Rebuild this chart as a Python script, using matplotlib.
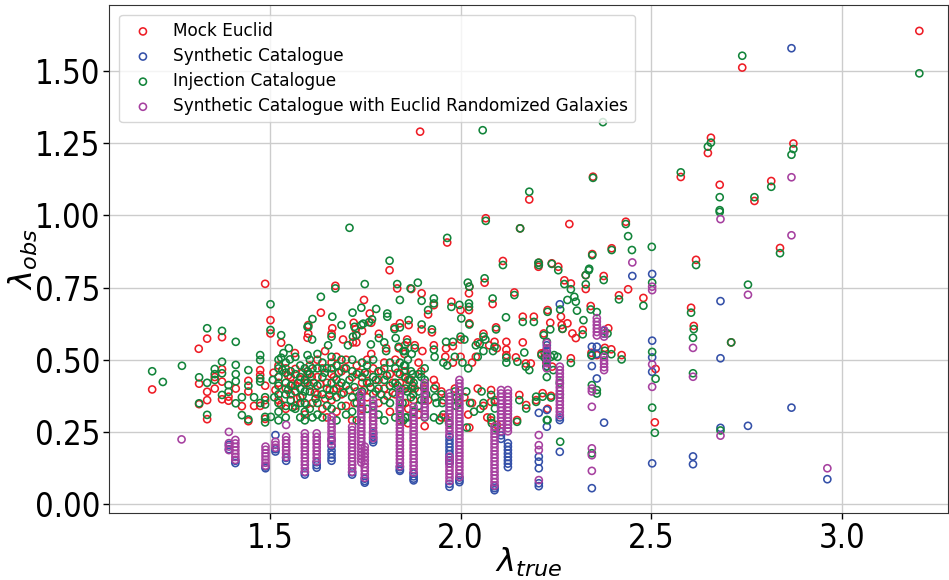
import matplotlib
matplotlib.use("Agg")
import matplotlib.pyplot as plt
from matplotlib import font_manager

# (lambda_true, lambda_obs) pairs for each catalogue
mock_euclid = [
    (1.192, .397), (1.314, .538), (1.336, .573), (1.375, .578), (1.315, .417), (1.315, .346),
    (1.336, .389), (1.336, .360), (1.336, .294), (1.356, .440), (1.356, .400), (1.375, .467),
    (1.375, .424), (1.375, .363), (1.392, .372), (1.392, .358), (1.411, .400), (1.427, .339),
    (1.444, .427), (1.444, .390), (1.444, .287), (1.459, .340),
    (1.488, .763), (1.502, .637), (1.502, .591), (1.530, .559), (1.475, .464), (1.475, .447),
    (1.475, .340), (1.488, .410), (1.488, .360), (1.488, .295), (1.523, .480), (1.523, .420),
    (1.523, .360), (1.542, .470), (1.542, .400), (1.542, .330), (1.555, .440), (1.567, .468),
    (1.567, .410), (1.567, .340), (1.580, .430), (1.580, .370), (1.592, .420), (1.592, .310),
    (1.599, .576), (1.599, .450), (1.566, .523), (1.555, .380),
    (1.672, .756), (1.814, .810), (1.834, .747), (1.634, .663), (1.601, .620), (1.664, .609),
    (1.720, .628), (1.725, .606), (1.747, .707), (1.742, .600), (1.766, .628), (1.841, .626),
    (1.864, .620), (1.827, .612), (1.692, .570), (1.601, .590), (1.662, .590), (1.645, .530),
    (1.718, .560), (1.727, .585), (1.727, .560), (1.766, .520), (1.786, .590), (1.805, .540),
    (1.838, .540), (1.860, .570), (1.853, .520), (1.871, .745), (1.894, 1.290), (1.762, .660),
    (1.605, .480), (1.605, .410), (1.612, .350), (1.625, .500), (1.625, .440), (1.625, .380),
    (1.638, .470), (1.638, .330), (1.650, .420), (1.650, .300), (1.662, .490), (1.662, .450),
    (1.662, .360), (1.675, .510), (1.675, .400), (1.675, .320), (1.688, .460), (1.688, .380),
    (1.700, .500), (1.700, .340), (1.716, .440), (1.716, .290), (1.728, .480), (1.728, .390),
    (1.742, .420), (1.742, .330), (1.755, .500), (1.755, .450), (1.755, .370), (1.771, .470),
    (1.771, .300), (1.785, .430), (1.785, .350), (1.800, .490), (1.800, .400), (1.815, .450),
    (1.815, .320), (1.829, .500), (1.829, .380), (1.841, .420), (1.841, .290), (1.855, .460),
    (1.855, .350), (1.870, .430), (1.870, .400), (1.877, .360), (1.890, .490), (1.890, .310),
    (1.906, .410), (1.906, .270),
    (1.510, .455), (1.515, .395), (1.530, .345), (1.548, .445), (1.560, .415), (1.572, .365),
    (1.586, .455), (1.596, .345), (1.610, .440), (1.618, .385), (1.632, .415), (1.645, .365),
    (1.657, .395), (1.668, .440), (1.683, .410), (1.695, .470), (1.708, .395), (1.722, .350),
    (1.735, .455), (1.748, .395), (1.762, .420), (1.778, .390), (1.792, .460), (1.808, .375),
    (1.822, .420), (1.835, .455), (1.848, .395), (1.863, .330),
    (1.898, .730), (1.930, .689), (1.915, .657), (1.976, .701), (2.000, .672), (2.023, .753),
    (2.022, .730), (2.022, .672), (2.023, .626), (2.063, .767), (2.066, .990), (1.965, .906),
    (1.898, .605), (1.925, .595), (1.962, .539), (1.980, .547), (2.000, .570), (2.045, .560),
    (2.060, .590), (2.075, .550), (2.095, .540), (1.854, .550), (1.880, .550), (1.900, .530),
    (1.930, .550), (1.960, .510), (1.980, .490), (2.000, .510), (2.030, .490), (2.040, .510),
    (1.852, .460), (1.862, .430), (1.880, .400), (1.897, .460), (1.905, .400), (1.915, .360),
    (1.930, .430), (1.935, .410), (1.950, .390), (1.955, .360), (1.950, .300), (1.985, .400),
    (1.995, .360), (2.010, .370), (2.030, .350), (2.020, .310), (2.045, .400), (2.060, .340),
    (2.070, .300), (1.960, .300), (1.862, .280), (2.023, .265), (2.080, .290),
    (2.084, .693), (2.093, .612), (2.111, .842), (2.141, .733), (2.163, .649), (2.192, .649),
    (2.205, .836), (2.204, .822), (2.239, .834), (2.256, .822), (2.272, .775), (2.289, .764),
    (2.328, .793), (2.328, .745), (2.375, .790), (2.439, .744), (2.415, .723), (2.479, .714),
    (2.345, .866), (2.228, .672), (2.263, .649), (2.280, .626), (2.235, .628), (2.267, .607),
    (2.320, .603), (2.341, .686), (2.387, .609), (2.293, .591), (2.218, .591), (2.212, .522),
    (2.289, .505), (2.378, .541), (2.395, .536), (2.343, .524), (2.357, .516), (2.422, .516),
    (2.511, .468), (2.509, .283), (2.089, .562), (2.120, .562), (2.120, .535), (2.120, .516),
    (2.145, .508), (2.163, .560), (2.171, .487), (2.184, .487), (2.220, .525), (2.225, .490),
    (2.240, .476), (2.198, .360), (2.215, .384), (2.237, .375), (2.172, .343), (2.154, .378),
    (2.148, .291), (2.228, .330), (2.090, .360), (2.095, .274), (2.080, .395), (2.080, .354),
    (2.156, .955), (2.180, 1.055), (2.285, .970), (2.347, 1.134), (2.302, .575), (2.265, .620),
    (2.433, .978), (2.396, .886),
    (2.604, .680), (2.611, .617), (2.617, .846), (2.577, 1.133), (2.656, 1.269), (2.648, 1.216),
    (2.679, 1.106), (2.709, .560), (2.738, 1.512), (2.770, 1.050), (2.814, 1.119), (2.837, .887),
    (2.872, 1.249), (3.202, 1.639),
]

synthetic = [
    (1.393, .205), (1.393, .190), (1.410, .150), (1.410, .142), (1.489, .130), (1.489, .124),
    (1.515, .239), (1.515, .190), (1.515, .182), (1.543, .160), (1.543, .150), (1.592, .110),
    (1.592, .102), (1.623, .145), (1.623, .135), (1.623, .126), (1.662, .222), (1.662, .200),
    (1.662, .185), (1.662, .172), (1.662, .160), (1.662, .150), (1.716, .110), (1.716, .102),
    (1.749, .088), (1.749, .080), (1.749, .074), (1.771, .245), (1.771, .232), (1.771, .222),
    (1.771, .214), (1.841, .128), (1.841, .120), (1.841, .115), (1.877, .106), (1.877, .096),
    (1.877, .088), (1.877, .082), (1.971, .233), (1.971, .221), (1.971, .209), (1.971, .197),
    (1.971, .185), (1.971, .173), (1.971, .161), (1.971, .150), (1.971, .141), (1.971, .070),
    (1.971, .060), (1.997, .092), (1.997, .083), (1.997, .076), (2.089, .062), (2.089, .055),
    (2.089, .048), (2.106, .250), (2.106, .238), (2.106, .226), (2.124, .211), (2.124, .199),
    (2.124, .187), (2.124, .175), (2.124, .163), (2.124, .151), (2.124, .140), (2.124, .128),
    (2.205, .316), (2.205, .164), (2.205, .147), (2.205, .124), (2.205, .072), (2.205, .062),
    (2.226, .550), (2.226, .530), (2.226, .512), (2.226, .495), (2.226, .478), (2.226, .326),
    (2.226, .268), (2.260, .692), (2.260, .300), (2.260, .291), (2.260, .181), (2.344, .545),
    (2.344, .514), (2.344, .478), (2.344, .055), (2.357, .545), (2.357, .520), (2.357, .435),
    (2.376, .600), (2.376, .590), (2.376, .282), (2.450, .790), (2.502, .797), (2.502, .566),
    (2.502, .508), (2.502, .458), (2.502, .141), (2.609, .165), (2.609, .138), (2.681, .703),
    (2.681, .505), (2.681, .264), (2.753, .271), (2.867, 1.579), (2.867, .334), (2.961, .086),
]

injection = [
    (1.192, .460), (1.220, .423), (1.270, .479), (1.336, .609), (1.375, .600), (1.411, .562),
    (1.315, .439), (1.315, .349), (1.336, .420), (1.336, .309), (1.356, .468), (1.356, .450),
    (1.356, .430), (1.375, .493), (1.375, .453), (1.375, .378), (1.392, .412), (1.392, .389),
    (1.411, .482), (1.411, .450), (1.411, .425), (1.411, .349), (1.427, .370), (1.427, .308),
    (1.444, .464), (1.444, .410), (1.444, .293), (1.459, .370),
    (1.502, .692), (1.502, .603), (1.530, .585), (1.553, .501), (1.475, .516), (1.475, .499),
    (1.475, .435), (1.475, .424), (1.475, .350), (1.488, .370), (1.488, .345), (1.488, .302),
    (1.488, .283), (1.503, .302), (1.530, .507), (1.523, .500), (1.523, .470), (1.523, .440),
    (1.523, .410), (1.523, .380), (1.523, .350), (1.523, .320), (1.523, .290), (1.542, .490),
    (1.542, .455), (1.542, .420), (1.542, .380), (1.542, .340), (1.542, .300), (1.555, .460),
    (1.555, .410), (1.555, .360), (1.567, .510), (1.567, .450), (1.567, .390), (1.567, .330),
    (1.580, .480), (1.580, .440), (1.580, .400), (1.580, .350), (1.580, .300), (1.592, .470),
    (1.592, .430), (1.592, .390), (1.592, .350), (1.592, .320), (1.592, .290), (1.599, .614),
    (1.599, .516), (1.599, .460), (1.599, .420), (1.536, .523), (1.550, .540),
    (1.814, .843), (1.672, .747), (1.749, .762), (1.834, .762), (1.869, .747), (1.634, .718),
    (1.612, .641), (1.601, .614), (1.664, .649), (1.717, .663), (1.722, .614), (1.740, .680),
    (1.740, .620), (1.745, .625), (1.760, .630), (1.768, .640), (1.779, .676), (1.808, .660),
    (1.808, .649), (1.841, .612), (1.841, .707), (1.864, .637), (1.827, .606), (1.688, .620),
    (1.611, .570), (1.662, .580), (1.653, .550), (1.705, .550), (1.718, .580), (1.727, .585),
    (1.765, .553), (1.786, .575), (1.800, .560), (1.805, .530), (1.830, .575), (1.838, .545),
    (1.850, .530), (1.860, .560), (1.709, .957), (1.888, .767),
    (1.605, .500), (1.605, .450), (1.605, .390), (1.605, .330), (1.612, .470), (1.612, .300),
    (1.625, .520), (1.625, .470), (1.625, .410), (1.625, .350), (1.625, .310), (1.638, .490),
    (1.638, .440), (1.638, .380), (1.638, .300), (1.650, .470), (1.650, .400), (1.650, .340),
    (1.662, .510), (1.662, .470), (1.662, .420), (1.662, .330), (1.675, .480), (1.675, .430),
    (1.675, .370), (1.675, .290), (1.688, .500), (1.688, .420), (1.688, .340), (1.700, .470),
    (1.700, .410), (1.700, .310), (1.716, .500), (1.716, .460), (1.716, .370), (1.716, .320),
    (1.728, .450), (1.728, .350), (1.728, .290), (1.742, .490), (1.742, .440), (1.742, .390),
    (1.755, .480), (1.755, .420), (1.755, .330), (1.771, .500), (1.771, .440), (1.771, .380),
    (1.771, .340), (1.785, .460), (1.785, .400), (1.785, .310), (1.800, .470), (1.800, .430),
    (1.800, .360), (1.800, .290), (1.815, .490), (1.815, .410), (1.815, .350), (1.829, .470),
    (1.829, .420), (1.829, .300), (1.841, .490), (1.841, .450), (1.841, .380), (1.841, .330),
    (1.855, .480), (1.855, .400), (1.855, .300), (1.870, .460), (1.870, .370), (1.877, .420),
    (1.877, .320), (1.890, .450), (1.890, .390), (1.890, .340), (1.906, .470), (1.906, .430),
    (1.906, .360), (1.906, .300),
    (1.508, .430), (1.512, .370), (1.533, .465), (1.548, .395), (1.560, .335), (1.574, .420),
    (1.586, .375), (1.615, .420), (1.620, .365), (1.644, .455), (1.656, .375), (1.668, .395),
    (1.681, .455), (1.694, .385), (1.709, .430), (1.722, .405), (1.734, .375), (1.749, .455),
    (1.764, .405), (1.778, .430), (1.792, .380), (1.807, .445), (1.822, .385), (1.835, .410),
    (1.848, .350), (1.866, .430),
    (2.058, 1.295), (1.965, .922), (2.066, .981), (2.019, .767), (2.023, .753), (2.022, .695),
    (2.022, .683), (2.063, .782), (1.898, .704), (1.930, .712), (1.915, .672), (1.976, .683),
    (1.997, .690), (2.002, .643), (2.023, .622), (1.930, .695), (1.898, .622), (1.925, .605),
    (1.962, .562), (1.980, .562), (2.000, .580), (2.010, .570), (2.040, .550), (2.050, .555),
    (2.060, .580), (2.065, .570), (2.085, .530), (1.854, .530), (1.872, .520), (1.862, .500),
    (1.880, .540), (1.930, .535), (1.932, .510), (1.955, .490), (1.965, .480), (1.985, .510),
    (2.005, .490), (2.020, .470), (2.045, .510), (2.060, .530), (1.852, .480), (1.855, .440),
    (1.860, .390), (1.875, .450), (1.875, .410), (1.876, .380), (1.897, .440), (1.905, .410),
    (1.910, .380), (1.897, .360), (1.931, .400), (1.933, .370), (1.937, .350), (1.950, .380),
    (1.952, .350), (1.955, .310), (1.985, .390), (1.990, .370), (1.995, .350), (1.988, .340),
    (2.015, .390), (2.025, .350), (2.035, .320), (2.055, .390), (2.060, .350), (2.052, .330),
    (1.930, .300), (1.945, .290), (1.850, .290), (1.860, .300), (1.970, .280), (2.016, .265),
    (2.080, .300), (2.082, .280),
    (2.111, .828), (2.084, .712), (2.093, .605), (2.119, .647), (2.141, .724), (2.163, .631),
    (2.192, .631), (2.205, .828), (2.204, .836), (2.239, .832), (2.256, .810), (2.272, .762),
    (2.289, .744), (2.337, .815), (2.328, .793), (2.328, .761), (2.375, .776), (2.415, .709),
    (2.479, .687), (2.298, .718), (2.302, .701), (2.280, .707), (2.305, .670), (2.341, .674),
    (2.357, .665), (2.228, .666), (2.261, .674), (2.322, .637), (2.235, .605), (2.267, .607),
    (2.320, .588), (2.218, .585), (2.226, .562), (2.237, .510), (2.245, .516), (2.254, .510),
    (2.212, .516), (2.289, .489), (2.378, .531), (2.395, .519), (2.343, .516), (2.375, .516),
    (2.422, .501), (2.385, .591), (2.502, .767), (2.502, .527), (2.511, .434), (2.502, .334),
    (2.509, .247), (2.345, .862), (2.180, 1.082), (2.156, .955), (2.347, 1.130), (2.373, 1.323),
    (2.433, .970), (2.439, .928), (2.396, .880), (2.449, .880), (2.501, .891), (2.336, .810),
    (2.089, .545), (2.120, .507), (2.120, .490), (2.149, .493), (2.167, .525), (2.171, .476),
    (2.180, .464), (2.220, .508), (2.225, .476), (2.243, .464), (2.198, .372), (2.198, .354),
    (2.215, .372), (2.237, .369), (2.172, .331), (2.154, .360), (2.148, .285), (2.228, .291),
    (2.090, .354), (2.090, .331), (2.093, .262), (2.080, .378), (2.226, .440), (2.261, .216),
    (2.344, .412), (2.344, .176), (2.357, .395), (2.357, .383), (2.260, .420), (2.260, .380),
    (2.226, .291),
    (2.604, .663), (2.611, .606), (2.609, .576), (2.609, .453), (2.617, .828), (2.577, 1.149),
    (2.656, 1.252), (2.648, 1.238), (2.679, 1.063), (2.679, 1.018), (2.679, 1.012), (2.681, .255),
    (2.709, .560), (2.738, 1.553), (2.753, .760), (2.770, 1.063), (2.814, 1.099), (2.837, .869),
    (2.872, 1.230), (2.867, 1.210), (3.202, 1.492),
]

randomized = [
    (1.269, .224),
    (1.393, .250), (1.393, .211), (1.393, .199), (1.393, .187),
    (1.410, .222), (1.410, .210), (1.410, .198), (1.410, .186), (1.410, .174), (1.410, .163), (1.410, .153),
    (1.489, .199), (1.489, .188), (1.489, .176), (1.489, .165), (1.489, .154), (1.489, .143), (1.489, .133),
    (1.515, .216), (1.515, .205), (1.515, .195),
    (1.543, .274), (1.543, .233), (1.543, .221), (1.543, .209), (1.543, .197), (1.543, .186), (1.543, .174),
    (1.543, .163),
    (1.592, .245), (1.592, .232), (1.592, .220), (1.592, .208), (1.592, .196), (1.592, .184), (1.592, .172),
    (1.592, .160), (1.592, .148), (1.592, .136), (1.592, .124), (1.592, .112),
    (1.623, .245), (1.623, .232), (1.623, .220), (1.623, .208), (1.623, .196), (1.623, .184), (1.623, .172),
    (1.623, .160), (1.623, .148),
    (1.662, .302), (1.662, .290), (1.662, .278), (1.662, .266), (1.662, .254), (1.662, .242), (1.662, .230),
    (1.662, .218), (1.662, .206),
    (1.716, .268), (1.716, .256), (1.716, .244), (1.716, .232), (1.716, .220), (1.716, .208), (1.716, .196),
    (1.716, .184), (1.716, .172), (1.716, .160), (1.716, .148), (1.716, .136), (1.716, .124), (1.716, .112),
    (1.740, .384), (1.740, .372), (1.740, .360), (1.740, .348), (1.740, .336), (1.740, .324), (1.740, .312),
    (1.740, .300), (1.740, .288), (1.740, .276), (1.740, .264), (1.740, .252), (1.740, .240), (1.740, .228),
    (1.740, .216), (1.740, .204), (1.740, .192), (1.740, .180), (1.740, .168), (1.740, .156), (1.740, .144),
    (1.749, .199), (1.749, .187), (1.749, .175), (1.749, .163), (1.749, .151), (1.749, .139), (1.749, .127),
    (1.749, .115), (1.749, .103), (1.749, .091),
    (1.771, .360), (1.771, .348), (1.771, .336), (1.771, .324), (1.771, .312), (1.771, .300), (1.771, .288),
    (1.771, .276), (1.771, .264), (1.771, .252), (1.771, .240), (1.771, .228),
    (1.841, .395), (1.841, .383), (1.841, .371), (1.841, .359), (1.841, .347), (1.841, .335), (1.841, .323),
    (1.841, .311), (1.841, .299), (1.841, .287), (1.841, .275), (1.841, .263), (1.841, .251), (1.841, .239),
    (1.841, .227), (1.841, .215), (1.841, .203), (1.841, .191), (1.841, .179), (1.841, .167), (1.841, .155),
    (1.841, .143), (1.841, .131),
    (1.877, .337), (1.877, .325), (1.877, .313), (1.877, .301), (1.877, .289), (1.877, .277), (1.877, .265),
    (1.877, .253), (1.877, .241), (1.877, .229), (1.877, .217), (1.877, .205), (1.877, .193), (1.877, .181),
    (1.877, .169), (1.877, .157), (1.877, .145), (1.877, .133), (1.877, .121), (1.877, .109),
    (1.906, .419), (1.906, .407), (1.906, .395), (1.906, .383), (1.906, .371), (1.906, .359), (1.906, .347),
    (1.906, .335), (1.906, .323), (1.906, .311), (1.906, .302),
    (1.971, .384), (1.971, .372), (1.971, .360), (1.971, .348), (1.971, .336), (1.971, .324), (1.971, .312),
    (1.971, .300), (1.971, .288), (1.971, .276), (1.971, .264), (1.971, .252), (1.971, .240), (1.971, .164),
    (1.971, .152), (1.971, .140), (1.971, .128), (1.971, .116), (1.971, .104), (1.971, .092), (1.971, .080),
    (1.997, .430), (1.997, .418), (1.997, .406), (1.997, .394), (1.997, .382), (1.997, .370), (1.997, .358),
    (1.997, .346), (1.997, .334), (1.997, .322), (1.997, .310), (1.997, .298), (1.997, .286), (1.997, .274),
    (1.997, .262), (1.997, .250), (1.997, .238), (1.997, .226), (1.997, .214), (1.997, .202), (1.997, .190),
    (1.997, .178), (1.997, .166), (1.997, .154), (1.997, .142), (1.997, .130), (1.997, .118), (1.997, .106),
    (1.997, .094),
    (2.089, .268), (2.089, .256), (2.089, .244), (2.089, .232), (2.089, .220), (2.089, .208), (2.089, .196),
    (2.089, .184), (2.089, .172), (2.089, .160), (2.089, .148), (2.089, .136), (2.089, .124), (2.089, .112),
    (2.089, .100), (2.089, .088), (2.089, .076), (2.089, .064),
    (2.106, .395), (2.106, .383), (2.106, .371), (2.106, .359), (2.106, .347), (2.106, .335), (2.106, .323),
    (2.106, .311), (2.106, .299), (2.106, .287), (2.106, .275), (2.106, .263), (2.106, .252),
    (2.124, .395), (2.124, .383), (2.124, .371), (2.124, .359), (2.124, .347), (2.124, .335), (2.124, .323),
    (2.124, .311), (2.124, .299), (2.124, .287), (2.124, .275), (2.124, .263), (2.124, .252),
    (2.205, .239), (2.205, .204), (2.205, .187), (2.205, .083),
    (2.226, .558), (2.226, .540), (2.226, .522), (2.226, .505), (2.226, .488), (2.226, .470),
    (2.260, .476), (2.260, .464), (2.260, .452), (2.260, .440), (2.260, .428), (2.260, .416), (2.260, .404),
    (2.260, .392), (2.260, .380), (2.260, .368), (2.260, .356), (2.260, .344), (2.260, .332), (2.260, .320),
    (2.260, .308),
    (2.344, .400), (2.344, .390), (2.344, .337), (2.344, .193), (2.344, .169), (2.344, .115),
    (2.357, .644), (2.357, .632), (2.357, .620), (2.357, .608), (2.357, .596), (2.357, .584),
    (2.376, .603), (2.376, .591), (2.376, .580), (2.376, .510), (2.376, .498), (2.376, .486), (2.376, .474),
    (2.376, .464),
    (2.450, .837), (2.502, .753), (2.502, .741), (2.502, .484), (2.502, .406), (2.609, .541), (2.609, .441),
    (2.681, .987), (2.681, .237), (2.753, .725), (2.867, 1.132), (2.867, .931), (2.961, .124),
]

series_labels = ["Mock Euclid", "Synthetic Catalogue", "Injection Catalogue",
                 "Synthetic Catalogue with Euclid Randomized Galaxies"]
series_colors = ["#ee1c25", "#3450a8", "#12843a", "#a6409f"]
series_data = [mock_euclid, synthetic, injection, randomized]

fig = plt.figure(figsize=(9.49, 5.80), dpi=100)
ax = fig.add_axes([0.1149, 0.1155, 0.8840, 0.876])

for pts, lab, col in zip(series_data, series_labels, series_colors):
    xs = [p[0] for p in pts]
    ys = [p[1] for p in pts]
    ax.scatter(xs, ys, s=26, facecolors="none", edgecolors=col, linewidths=1.15, label=lab)

ax.set_xlim(1.079, 3.277)
ax.set_ylim(-0.031, 1.729)
ax.set_xticks([1.5, 2.0, 2.5, 3.0])
ax.set_yticks([0.0, 0.25, 0.5, 0.75, 1.0, 1.25, 1.5])
ax.set_yticklabels(["0.00", "0.25", "0.50", "0.75", "1.00", "1.25", "1.50"])
ax.grid(True, color="#cccccc", linewidth=1.0)
ax.set_axisbelow(True)
ax.tick_params(length=4, width=1, pad=2.5)

# tall, narrow tick labels
tick_font = font_manager.FontProperties(family="DejaVu Sans", stretch="condensed", size=23.5)
for lbl in ax.get_xticklabels() + ax.get_yticklabels():
    lbl.set_fontproperties(tick_font)

for sp in ax.spines.values():
    sp.set_color("#333333")

ax.set_xlabel(r"$\lambda_{true}$", fontsize=23)
ax.set_ylabel(r"$\lambda_{obs}$", fontsize=23)
ax.xaxis.set_label_coords(0.5, -0.065)
ax.yaxis.set_label_coords(-0.082, 0.5)

ax.legend(loc="upper left", fontsize=12.2, framealpha=0.8, borderaxespad=0.6,
          borderpad=0.4, labelspacing=0.42)

fig.savefig("out.png", dpi=100)
